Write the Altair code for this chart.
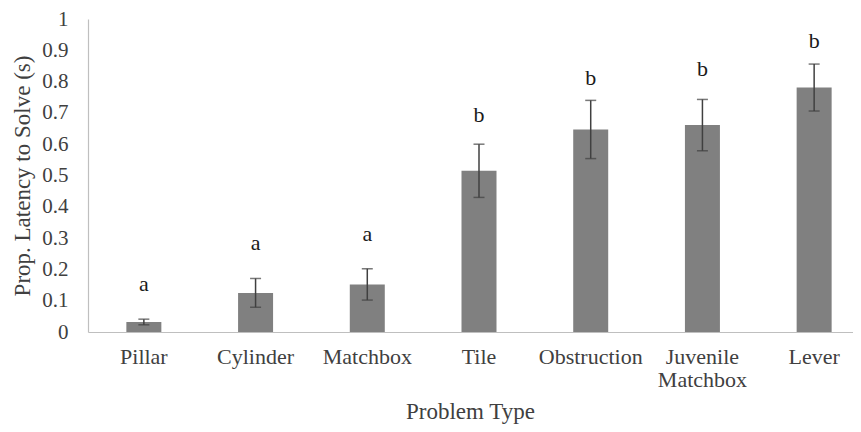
import altair as alt
import pandas as pd

categories = ["Pillar", "Cylinder", "Matchbox", "Tile", "Obstruction", "Juvenile Matchbox", "Lever"]
means = [0.032, 0.125, 0.152, 0.515, 0.647, 0.661, 0.781]
errors = [0.009, 0.046, 0.050, 0.085, 0.093, 0.082, 0.075]
letters = ["a", "a", "a", "b", "b", "b", "b"]
letter_y = [0.131, 0.261, 0.290, 0.672, 0.790, 0.818, 0.908]
y_ticks = [0, 0.1, 0.2, 0.3, 0.4, 0.5, 0.6, 0.7, 0.8, 0.9, 1]

df = pd.DataFrame({
    "cat": categories,
    "mean": means,
    "lo": [m - e for m, e in zip(means, errors)],
    "hi": [m + e for m, e in zip(means, errors)],
    "letter": letters,
    "ly": letter_y,
})

FONT = "Liberation Serif"
xscale = alt.Scale(paddingInner=0, paddingOuter=0, range=[0, 782])
yscale = alt.Scale(domain=[0, 1], nice=False)

xaxis = alt.Axis(title="Problem Type", labelAngle=0, ticks=False,
                 labelExpr="split(datum.label, ' ')",
                 labelLineHeight=23, labelPadding=14,
                 labelFontSize=22, titleFontSize=23,
                 titleY=86, titleBaseline="alphabetic", titleX=382,
                 domainColor="#bfbfbf", domainWidth=1.2)
yaxis = alt.Axis(title="Prop. Latency to Solve (s)", values=y_ticks,
                 labelExpr="datum.value == 0 ? '0' : datum.value == 1 ? '1' : format(datum.value, '.1f')",
                 labelOverlap=False,
                 ticks=False, grid=False, labelPadding=20,
                 labelFontSize=21, titleFontSize=23,
                 titleX=-66, titleBaseline="middle",
                 domainColor="#bfbfbf", domainWidth=1.2)

xs = alt.X("cat:N", sort=categories, scale=xscale, axis=xaxis)

def ys(field):
    return alt.Y(field, scale=yscale, axis=yaxis)

base = alt.Chart(df)
bars = base.mark_bar(size=35, color="#808080").encode(x=xs, y=ys("mean:Q"))
rules = base.mark_rule(color="#404040", strokeWidth=1.5).encode(x=xs, y=ys("lo:Q"), y2="hi:Q")
caps_hi = base.mark_tick(color="#404040", thickness=1.5, size=11, orient="horizontal").encode(
    x=xs, y=ys("hi:Q"))
caps_lo = base.mark_tick(color="#404040", thickness=1.5, size=11, orient="horizontal").encode(
    x=xs, y=ys("lo:Q"))
text = base.mark_text(font=FONT, fontSize=22, color="#1a1a1a", baseline="alphabetic").encode(
    x=xs, y=ys("ly:Q"), text="letter:N")

chart = alt.layer(bars, rules, caps_hi, caps_lo, text).properties(
    width=765, height=313,
    autosize=alt.AutoSizeParams(type="none"),
    padding={"left": 80, "top": 11, "right": 0, "bottom": 92},
).configure_axis(
    labelFont=FONT, titleFont=FONT, labelColor="#404040", titleColor="#404040",
    titleFontWeight="normal", grid=False,
).configure_view(stroke=None)

chart.save("out.html", embed_options={"renderer": "svg", "actions": False})
